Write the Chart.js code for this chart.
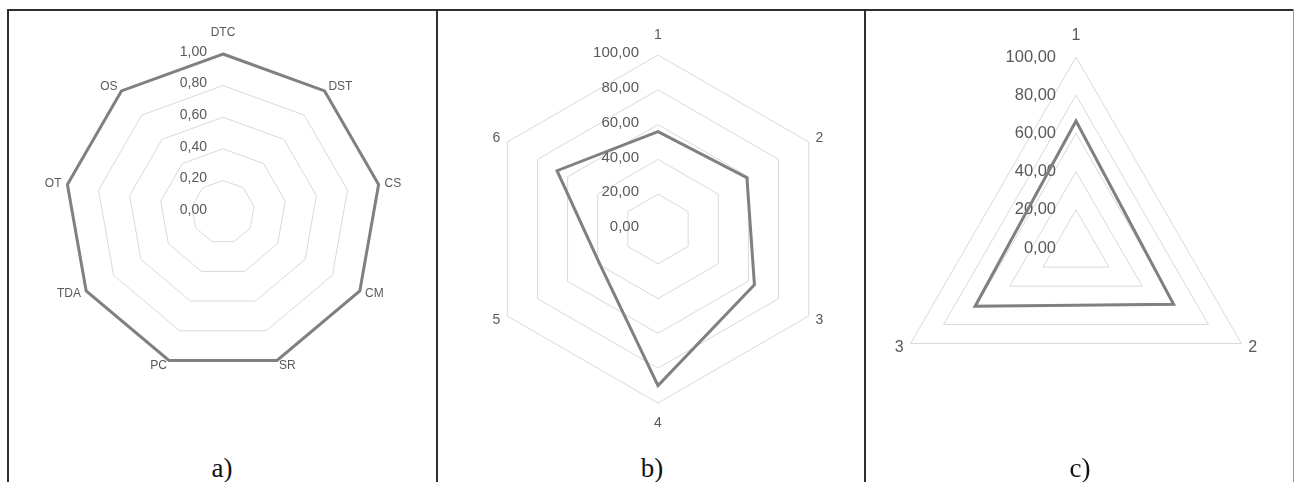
<!DOCTYPE html>
<html>
<head>
<meta charset="utf-8">
<script src="https://cdn.jsdelivr.net/npm/chart.js@4/dist/chart.umd.min.js"></script>
<style>
  body { margin: 0; background: #fff; width: 1294px; height: 482px; overflow: hidden; position: relative; }
  canvas { position: absolute; }
  .rule { position: absolute; background: #2e2e2e; z-index: 2; }
  .cap { position: absolute; top: 450px; width: 120px; text-align: center; font: 27px "Liberation Serif", serif; color: #111; line-height: 36px; }
</style>
</head>
<body>
<div class="rule" style="left:7px;top:9px;width:1287px;height:2px"></div>
<div class="rule" style="left:7px;top:9px;width:2px;height:473px"></div>
<div class="rule" style="left:436px;top:9px;width:2px;height:473px"></div>
<div class="rule" style="left:864px;top:9px;width:2px;height:473px"></div>
<div class="rule" style="left:1293px;top:9px;width:1px;height:473px;background:#9a9a9a"></div>

<canvas id="chart-a" width="420" height="420" style="left:13px;top:2px"></canvas>
<canvas id="chart-b" width="420" height="420" style="left:448px;top:19px"></canvas>
<canvas id="chart-c" width="440" height="440" style="left:856px;top:28px"></canvas>

<div class="cap" style="left:162px">a)</div>
<div class="cap" style="left:592px">b)</div>
<div class="cap" style="left:1020px">c)</div>

<script>
// a) criteria, all at the maximum
const labelsA = ['DTC', 'DST', 'CS', 'CM', 'SR', 'PC', 'TDA', 'OT', 'OS'];
const valuesA = [1, 1, 1, 1, 1, 1, 1, 1, 1];
const tickValuesA = [0, 0.2, 0.4, 0.6, 0.8, 1];
const tickLabelsA = ['0,00', '0,20', '0,40', '0,60', '0,80', '1,00'];

// b) six points
const labelsB = ['1', '2', '3', '4', '5', '6'];
const valuesB = [56, 59, 64, 90, 39, 67];
const tickValuesB = [0, 20, 40, 60, 80, 100];
const tickLabelsB = ['0,00', '20,00', '40,00', '60,00', '80,00', '100,00'];

// c) three points
const labelsC = ['1', '2', '3'];
const valuesC = [66.5, 59, 61];
const tickValuesC = tickValuesB;
const tickLabelsC = tickLabelsB;

const textColor = '#595959';
const gridColor = '#d9d9d9';
const lineColor = '#808080';

// tick labels sit left of the vertical axis, point labels hug the vertices
const radarText = {
  id: 'radarText',
  beforeDatasetsDraw(chart, args, o) {
    const s = chart.scales.r;
    const ctx = chart.ctx;
    const n = chart.data.labels.length;
    ctx.save();
    ctx.fillStyle = textColor;
    ctx.textBaseline = 'middle';

    ctx.font = o.pointFont;
    chart.data.labels.forEach((lab, i) => {
      const deg = i * 360 / n;
      const end = deg === 0 || deg === 180;
      const p = s.getPointPosition(i, s.drawingArea + (end ? o.endPad : o.sidePad));
      ctx.textAlign = end ? 'center' : (deg < 180 ? 'left' : 'right');
      ctx.fillText(lab, p.x, p.y);
    });

    ctx.font = o.tickFont;
    ctx.textAlign = 'right';
    o.values.forEach((v, i) => {
      const y = s.yCenter - s.getDistanceFromCenterForValue(v) + o.tickDy;
      ctx.fillText(o.labels[i], s.xCenter - o.tickDx, y);
    });
    ctx.restore();
  }
};

function drawRadar(id, labels, values, max, step, pad, text) {
  new Chart(id, {
    type: 'radar',
    data: {
      labels: labels,
      datasets: [{
        data: values,
        borderColor: lineColor,
        backgroundColor: 'transparent',
        borderWidth: 3,
        fill: false,
        pointRadius: 0
      }]
    },
    options: {
      responsive: false,
      animation: false,
      layout: { padding: pad },
      plugins: {
        legend: { display: false },
        tooltip: { enabled: false },
        radarText: text
      },
      scales: {
        r: {
          min: 0,
          max: max,
          ticks: { display: false, stepSize: step },
          pointLabels: { display: false },
          angleLines: { display: false },
          grid: { color: gridColor, lineWidth: 1 }
        }
      }
    },
    plugins: [radarText]
  });
}

drawRadar('chart-a', labelsA, valuesA, 1, 0.2, 52, {
  values: tickValuesA, labels: tickLabelsA,
  tickFont: '14px "Liberation Sans", Arial, sans-serif',
  pointFont: '12px "Liberation Sans", Arial, sans-serif',
  tickDx: 16, tickDy: -2, sidePad: 6, endPad: 21
});

drawRadar('chart-b', labelsB, valuesB, 100, 20, 36, {
  values: tickValuesB, labels: tickLabelsB,
  tickFont: '15px "Liberation Sans", Arial, sans-serif',
  pointFont: '14px "Liberation Sans", Arial, sans-serif',
  tickDx: 19, tickDy: -2, sidePad: 8, endPad: 20
});

drawRadar('chart-c', labelsC, valuesC, 100, 20, 29, {
  values: tickValuesC, labels: tickLabelsC,
  tickFont: '16.5px "Liberation Sans", Arial, sans-serif',
  pointFont: '16px "Liberation Sans", Arial, sans-serif',
  tickDx: 20, tickDy: 0, sidePad: 8, endPad: 21
});
</script>
</body>
</html>
